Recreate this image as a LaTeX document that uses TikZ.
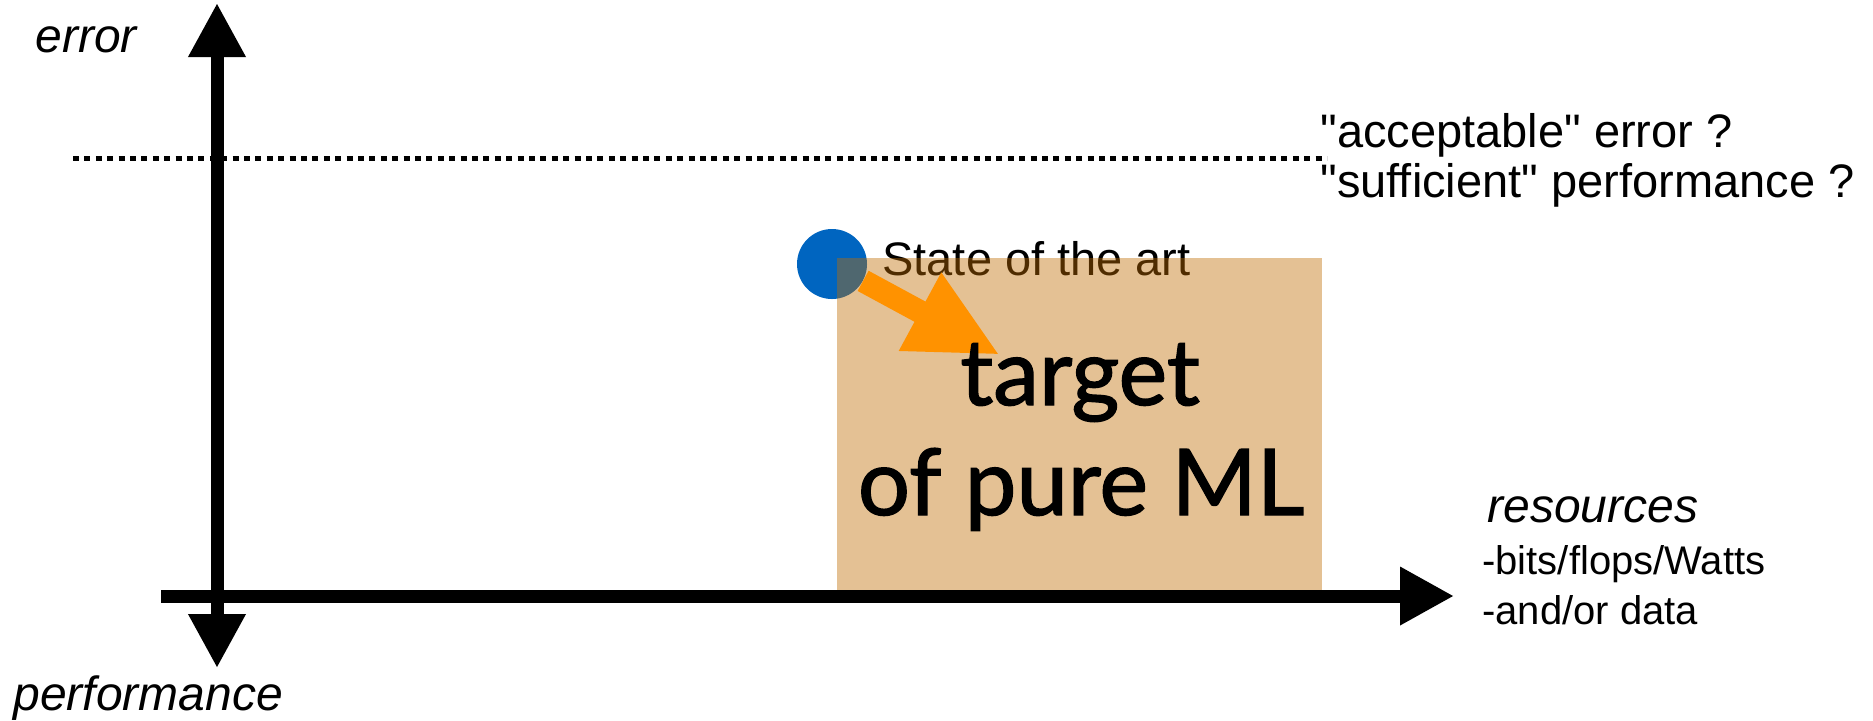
\documentclass[tikz,border=0pt]{standalone}
\usepackage{fontspec}
\setmainfont{Liberation Sans}[Ligatures=TeXOff]
\newfontfamily\gillfont{Lato}[FakeBold=1.5]
\usetikzlibrary{arrows.meta}
\definecolor{dotblue}{RGB}{0,101,192}
\definecolor{boxtan}{RGB}{190,107,0}
\definecolor{arrorange}{RGB}{255,146,0}
\begin{document}
\begin{tikzpicture}[x=0.5pt,y=-0.5pt,
  axis/.style={line width=6.5pt},
  lbl/.style={inner sep=0pt, anchor=base west},
  lblbig/.style={lbl, font=\fontsize{23.5}{28}\selectfont},
  lblsmall/.style={lbl, font=\fontsize{20}{24}\selectfont},
  targetfont/.style={inner sep=0pt, anchor=base, font=\gillfont\fontsize{46}{55}\selectfont}]
\useasboundingbox (0,0) rectangle (1873,720);

% axes end points
\coordinate (ytop) at (217,3);
\coordinate (ybot) at (217,668);
\coordinate (xl) at (161,596);
\coordinate (xr) at (1454,596);
\coordinate (dl) at (73,158);
\coordinate (dr) at (1327,158);

% dotted threshold line
\draw[line width=2.5pt, dash pattern=on 3pt off 2.7pt] (dl) -- (dr);

% axes
\draw[axis, {Triangle[length=27pt,width=27pt]}-{Triangle[length=27pt,width=27pt]}] (ybot) -- (ytop);
\draw[axis, -{Triangle[length=27pt,width=27.5pt]}] (xl) -- (xr);

% axis labels
\node[lbl, font=\fontsize{24}{28}\selectfont\itshape] (err) at (35,52) {error};
\node[lbl, font=\fontsize{24}{28}\selectfont\itshape] (perf) at (13,710) {performance};
\node[lbl, font=\fontsize{24}{28}\selectfont\itshape] (res) at (1487,522) {resources};
\node[lblsmall] (bits) at (1482,574) {-bits/flops/Watts};
\node[lblsmall] (data) at (1482,624) {-and/or data};

\node[lblbig] (acc) at (1320,147) {"acceptable" error ?};
\node[lblbig] (suf) at (1320,197) {"sufficient" performance ?};

% state of the art
\node[circle, fill=dotblue, minimum size=35pt, inner sep=0pt] (sota) at (832,264) {};
\node[lblbig] (sotalbl) at (882,275) {State of the art};

% target box (semi-transparent)
\node[fill=boxtan, fill opacity=0.42, minimum width=242.5pt, minimum height=166pt,
      inner sep=0pt, anchor=north west] (box) at (837,258) {};

% orange arrow
\coordinate (tip) at (1000,355);
\draw[line width=11.5pt, arrorange, -{Triangle[length=45.5pt,width=41pt]}] (sota) -- (tip);

% target text
\node[targetfont] (tgt1) at (1080,405) {target};
\node[targetfont] (tgt2) at (1081,515) {of pure ML};
\end{tikzpicture}
\end{document}
